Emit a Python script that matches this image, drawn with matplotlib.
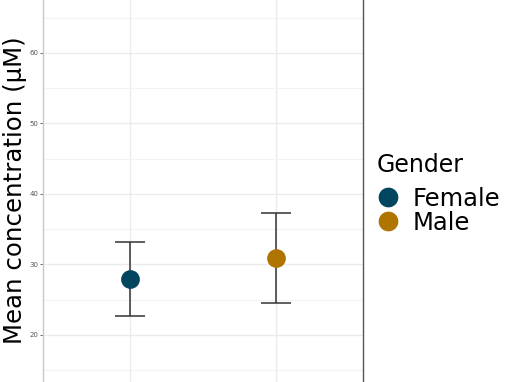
import matplotlib
matplotlib.use('Agg')
import matplotlib.pyplot as plt
from matplotlib.lines import Line2D

# data
genders = ['Female', 'Male']
means = [27.9, 30.9]
upper = [33.2, 37.3]
lower = [22.7, 24.5]
colors = ['#02455f', '#b07400']

fig = plt.figure(figsize=(5.1, 3.82), dpi=100)
ax = fig.add_axes([43 / 510, 0, 320 / 510, 1])

xpos = [1, 2]
for x, m, hi, lo, c in zip(xpos, means, upper, lower, colors):
    ax.errorbar(x, m, yerr=[[m - lo], [hi - m]], fmt='none', ecolor='#333333',
                elinewidth=1.1, capsize=10.5, capthick=1.1, zorder=3)
    ax.plot(x, m, 'o', color=c, markersize=13.5, zorder=4, markeredgewidth=0)

ax.set_xlim(0.4, 2.6)
ax.set_ylim(13.3, 67.5)
ax.set_xticks(xpos)
ax.set_xticklabels([])
ax.set_yticks([20, 30, 40, 50, 60])
ax.set_yticks([15, 25, 35, 45, 55, 65], minor=True)
ax.tick_params(axis='y', which='major', labelsize=5, labelcolor='#555555',
               length=2, width=0.6, color='#555555', pad=1)
ax.tick_params(axis='y', which='minor', length=0)
ax.tick_params(axis='x', length=0)
ax.grid(True, which='major', color='#ebebeb', linewidth=1.0)
ax.grid(True, which='minor', axis='y', color='#f3f3f3', linewidth=0.8)
ax.set_axisbelow(True)

for s in ['top', 'bottom']:
    ax.spines[s].set_visible(False)
ax.spines['left'].set_color('#c8c8c8')
ax.spines['left'].set_linewidth(1.0)
ax.spines['right'].set_color('#555555')
ax.spines['right'].set_linewidth(1.0)

fig.text(15 / 510, 1 - 190 / 382, 'Mean concentration (\u03bcM)', rotation=90,
         fontsize=17.6, va='center', ha='center')

# legend: title drawn separately to get the ggplot-like gap
fig.text(377 / 510, 1 - 165 / 382, 'Gender', fontsize=17, va='center', ha='left')
handles = [Line2D([], [], marker='o', linestyle='none', color=c, markersize=14.2,
                  markeredgewidth=0) for c in colors]
leg = fig.legend(handles, genders, loc='upper left',
                 bbox_to_anchor=(376 / 510, 1 - 187 / 382), frameon=False,
                 fontsize=17.5, handletextpad=0.5, labelspacing=-0.01,
                 handlelength=1.0, borderpad=0.0, borderaxespad=0.0)

fig.savefig('out.png', dpi=100)
